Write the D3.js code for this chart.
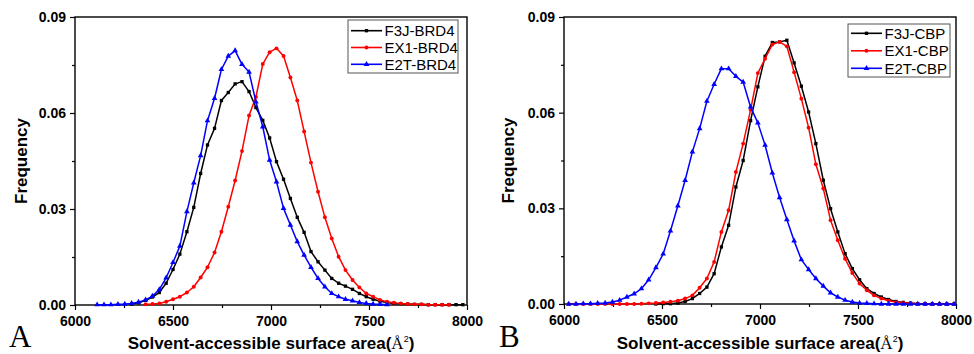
<!DOCTYPE html>
<html>
<head>
<meta charset="utf-8">
<script src="https://cdn.jsdelivr.net/npm/d3@7"></script>
<style>
body { margin: 0; background: #fff; }
svg { display: block; font-family: "Liberation Sans", Arial, sans-serif; }
.tick text { font-weight: bold; font-size: 14px; fill: #000; }
.tick line { stroke: #000; stroke-width: 1.2; }
</style>
</head>
<body>
<svg class="visSVG"></svg>
<script>
const svgWidth = 974;
const svgHeight = 354;

// bin centres (surface area, A^2)
const binsA = [6113, 6148, 6183, 6219, 6254, 6289, 6324, 6360, 6395, 6430,
    6465, 6500, 6535, 6571, 6606, 6641, 6676, 6712, 6747, 6782,
    6817, 6852, 6888, 6923, 6958, 6993, 7028, 7064, 7099, 7134,
    7169, 7204, 7240, 7275, 7310, 7345, 7380, 7416, 7451, 7486,
    7521, 7556, 7592, 7627, 7662, 7697, 7732, 7768, 7803, 7838,
    7873, 7908, 7944, 7979];

const f3jBrd4 = [null, null, null, null, null, 0.0003, 0.0007, 0.0014, 0.0025, 0.0039,
    0.0068, 0.0111, 0.0159, 0.0229, 0.0305, 0.0411, 0.0500, 0.0552, 0.0639, 0.0664,
    0.0691, 0.0698, 0.0667, 0.0617, 0.0577, 0.0522, 0.0448, 0.0393, 0.0333, 0.0274,
    0.0227, 0.0167, 0.0135, 0.0109, 0.0083, 0.0068, 0.0059, 0.0049, 0.0036, 0.0026,
    0.0018, 0.0012, 0.0008, 0.0005, 0.0004, 0.0003, 0.0002, 0.0002, 0.0001, 0.0001,
    0.0001, 0.0001, 0.0001, 0.0001];

const ex1Brd4 = [null, null, null, null, null, null, null, 0.0002, 0.0003, 0.0005,
    0.0010, 0.0018, 0.0026, 0.0039, 0.0057, 0.0086, 0.0118, 0.0164, 0.0229, 0.0307,
    0.0389, 0.0481, 0.0592, 0.0650, 0.0753, 0.0790, 0.0802, 0.0778, 0.0711, 0.0639,
    0.0542, 0.0445, 0.0354, 0.0274, 0.0208, 0.0151, 0.0109, 0.0078, 0.0055, 0.0036,
    0.0026, 0.0016, 0.0010, 0.0007, 0.0005, 0.0003, 0.0002, 0.0002, 0.0001, 0.0001,
    0.0001, 0.0001, null, null];

const e2tBrd4 = [0.0001, 0.0001, 0.0001, 0.0002, 0.0003, 0.0005, 0.0009, 0.0016, 0.0028, 0.0048,
    0.0085, 0.0133, 0.0184, 0.0292, 0.0382, 0.0467, 0.0576, 0.0646, 0.0736, 0.0778,
    0.0795, 0.0752, 0.0728, 0.0635, 0.0557, 0.0453, 0.0385, 0.0302, 0.0250, 0.0198,
    0.0156, 0.0118, 0.0083, 0.0057, 0.0036, 0.0026, 0.0018, 0.0013, 0.0008, 0.0005,
    0.0003, 0.0002, 0.0001, null, null, null, null, null, null, null,
    null, null, null, null];

const binsB = [6024, 6061, 6098, 6135, 6172, 6210, 6247, 6284, 6321, 6358,
    6395, 6432, 6469, 6506, 6543, 6581, 6618, 6655, 6692, 6729,
    6766, 6803, 6840, 6877, 6914, 6952, 6989, 7026, 7063, 7100,
    7137, 7174, 7211, 7248, 7285, 7323, 7360, 7397, 7434, 7471,
    7508, 7545, 7582, 7619, 7656, 7694, 7731, 7768, 7805, 7842,
    7879, 7916, 7953, 7990];

const f3jCbp = [null, null, null, null, null, null, null, null, null, null,
    null, null, 0.0000, 0.0001, 0.0001, 0.0003, 0.0008, 0.0017, 0.0033, 0.0053,
    0.0095, 0.0179, 0.0247, 0.0367, 0.0450, 0.0575, 0.0681, 0.0777, 0.0820, 0.0822,
    0.0827, 0.0756, 0.0683, 0.0602, 0.0503, 0.0388, 0.0299, 0.0226, 0.0158, 0.0111,
    0.0076, 0.0048, 0.0033, 0.0022, 0.0014, 0.0008, 0.0005, 0.0003, 0.0001, 0.0001,
    0.0000, 0.0000, 0.0000, 0.0000];

const ex1Cbp = [0.0000, 0.0000, 0.0000, 0.0000, 0.0000, 0.0000, 0.0000, 0.0000, 0.0000, 0.0000,
    0.0001, 0.0002, 0.0003, 0.0005, 0.0007, 0.0010, 0.0017, 0.0027, 0.0051, 0.0080,
    0.0132, 0.0226, 0.0294, 0.0414, 0.0503, 0.0609, 0.0724, 0.0769, 0.0814, 0.0822,
    0.0808, 0.0727, 0.0644, 0.0553, 0.0438, 0.0362, 0.0263, 0.0200, 0.0142, 0.0097,
    0.0064, 0.0043, 0.0027, 0.0017, 0.0010, 0.0006, 0.0004, 0.0002, 0.0001, 0.0000,
    0.0000, 0.0000, 0.0000, 0.0000];

const e2tCbp = [0.0000, 0.0000, 0.0001, 0.0001, 0.0002, 0.0003, 0.0006, 0.0012, 0.0022, 0.0032,
    0.0048, 0.0076, 0.0114, 0.0157, 0.0229, 0.0308, 0.0388, 0.0477, 0.0550, 0.0636,
    0.0689, 0.0738, 0.0738, 0.0714, 0.0696, 0.0618, 0.0568, 0.0498, 0.0411, 0.0334,
    0.0265, 0.0198, 0.0139, 0.0108, 0.0080, 0.0056, 0.0035, 0.0022, 0.0012, 0.0006,
    0.0003, 0.0002, 0.0001, 0.0000, 0.0000, 0.0000, 0.0000, 0.0000, 0.0000, 0.0000,
    0.0000, 0.0000, 0.0000, 0.0000];

const seriesNamesA = ["F3J-BRD4", "EX1-BRD4", "E2T-BRD4"];
const seriesNamesB = ["F3J-CBP", "EX1-CBP", "E2T-CBP"];

const xTicks = [6000, 6500, 7000, 7500, 8000];
const xMinorTicks = [6250, 6750, 7250, 7750];
const yTicks = [0, 0.03, 0.06, 0.09];
const yMinorTicks = [0.015, 0.045, 0.075];

const colours = ["#000000", "#ff0000", "#0000ff"];
const symbols = [d3.symbolSquare, d3.symbolCircle, d3.symbolTriangle];
const symbolSizes = [11, 12, 14];

const svg = d3.select('.visSVG')
    .attr("width", svgWidth)
    .attr("height", svgHeight);

var panels = [
    {
        letter: "A", left: 75, right: 467, top: 17, bottom: 305,
        bins: binsA, values: [f3jBrd4, ex1Brd4, e2tBrd4], names: seriesNamesA,
        legend: {x: 348, y: 20, w: 110, h: 53, row0: 10.7, step: 16.8},
        letterX: 9, yTitleX: 27
    },
    {
        letter: "B", left: 564, right: 956, top: 17, bottom: 304,
        bins: binsB, values: [f3jCbp, ex1Cbp, e2tCbp], names: seriesNamesB,
        legend: {x: 848, y: 24, w: 102, h: 53, row0: 9.3, step: 17.5},
        letterX: 499, yTitleX: 514
    }
];

panels.forEach(function(p) { render(p); });

function render(p) {
    const g = svg.append("g");

    const xScale = d3.scaleLinear().domain([6000, 8000]).range([p.left, p.right]);
    const yScale = d3.scaleLinear().domain([0, 0.09]).range([p.bottom, p.top]);

    // X AXIS
    const xAxis = g.append("g")
        .attr("transform", "translate(0," + p.bottom + ")")
        .call(d3.axisBottom(xScale).tickValues(xTicks).tickSize(5).tickPadding(6)
            .tickFormat(d3.format("d")));
    xAxis.select(".domain").remove();
    const xMinor = g.append("g")
        .attr("transform", "translate(0," + p.bottom + ")")
        .call(d3.axisBottom(xScale).tickValues(xMinorTicks).tickSize(3).tickFormat(""));
    xMinor.select(".domain").remove();

    // Y AXIS
    const yAxis = g.append("g")
        .attr("transform", "translate(" + p.left + ",0)")
        .call(d3.axisLeft(yScale).tickValues(yTicks).tickSize(5).tickPadding(4)
            .tickFormat(d3.format(".2f")));
    yAxis.select(".domain").remove();
    const yMinor = g.append("g")
        .attr("transform", "translate(" + p.left + ",0)")
        .call(d3.axisLeft(yScale).tickValues(yMinorTicks).tickSize(3).tickFormat(""));
    yMinor.select(".domain").remove();

    // frame
    g.append("rect")
        .attr("x", p.left)
        .attr("y", p.top)
        .attr("width", p.right - p.left)
        .attr("height", p.bottom - p.top)
        .attr("fill", "none")
        .attr("stroke", "#000")
        .attr("stroke-width", 1.4);

    // LINES + MARKERS
    p.values.forEach(function(vals, k) {
        const pts = p.bins.map(function(b, i) { return {x: b, y: vals[i]}; })
            .filter(function(d) { return d.y !== null; });

        const line = d3.line()
            .x(function(d) { return xScale(d.x); })
            .y(function(d) { return yScale(d.y); });

        g.append("path")
            .datum(pts)
            .attr("d", line)
            .attr("fill", "none")
            .attr("stroke", colours[k])
            .attr("stroke-width", 1.5)
            .attr("stroke-linejoin", "round");

        g.append("g")
            .selectAll("path")
            .data(pts)
            .enter().append("path")
                .attr("d", d3.symbol().type(symbols[k]).size(symbolSizes[k]))
                .attr("transform", function(d) { return "translate(" + xScale(d.x) + "," + yScale(d.y) + ")"; })
                .attr("fill", colours[k]);
    });

    // LEGEND
    const lg = g.append("g").attr("transform", "translate(" + p.legend.x + "," + p.legend.y + ")");
    lg.append("rect")
        .attr("width", p.legend.w)
        .attr("height", p.legend.h)
        .attr("fill", "#fff")
        .attr("stroke", "#555")
        .attr("stroke-width", 1);
    p.names.forEach(function(name, k) {
        const ry = p.legend.row0 + k * p.legend.step;
        lg.append("line")
            .attr("x1", 3).attr("x2", 34)
            .attr("y1", ry).attr("y2", ry)
            .attr("stroke", colours[k])
            .attr("stroke-width", 1.6);
        lg.append("path")
            .attr("d", d3.symbol().type(symbols[k]).size(symbolSizes[k]))
            .attr("transform", "translate(18.5," + ry + ")")
            .attr("fill", colours[k]);
        lg.append("text")
            .attr("x", 36.5)
            .attr("y", ry + 5.3)
            .attr("font-size", "15px")
            .attr("fill", "#000")
            .text(name);
    });

    // axis titles
    g.append("text")
        .attr("transform", "translate(" + p.yTitleX + "," + ((p.top + p.bottom) / 2) + ") rotate(-90)")
        .attr("text-anchor", "middle")
        .attr("font-size", "17px")
        .attr("font-weight", "bold")
        .text("Frequency");

    const xt = g.append("text")
        .attr("x", (p.left + p.right) / 2)
        .attr("y", 349)
        .attr("text-anchor", "middle")
        .attr("font-size", "17px")
        .attr("font-weight", "bold");
    xt.append("tspan").text("Solvent-accessible surface area(");
    xt.append("tspan")
        .attr("font-family", "'Liberation Serif', 'Times New Roman', serif")
        .attr("font-weight", "normal")
        .text("Å");
    xt.append("tspan")
        .attr("font-size", "9px")
        .attr("font-weight", "normal")
        .attr("dy", -7)
        .text("2");
    xt.append("tspan")
        .attr("dy", 7)
        .text(")");

    // panel letter
    g.append("text")
        .attr("x", p.letterX)
        .attr("y", 347)
        .attr("font-family", "'Liberation Serif', 'Times New Roman', serif")
        .attr("font-size", "31px")
        .text(p.letter);
}
</script>
</body>
</html>
